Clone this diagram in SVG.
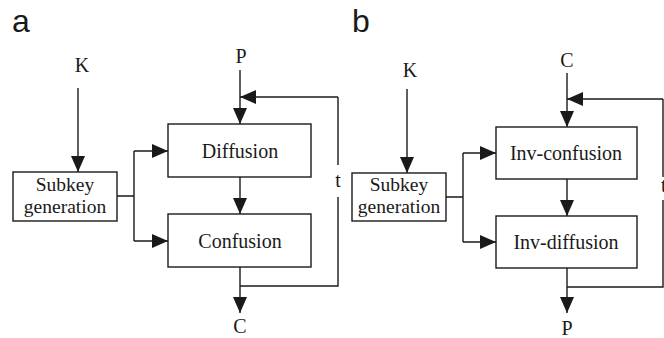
<svg xmlns="http://www.w3.org/2000/svg" width="664" height="338" viewBox="0 0 664 338">
<defs>
<marker id="ah" markerWidth="16" markerHeight="14" refX="16" refY="7" orient="auto" markerUnits="userSpaceOnUse">
<path d="M0,0 L16,7 L0,14 Z" fill="#1a1a1a"/>
</marker>
<style>
.box{fill:#fff;stroke:#1a1a1a;stroke-width:1.4}
.ln{fill:none;stroke:#1a1a1a;stroke-width:1.4}
.ar{fill:none;stroke:#1a1a1a;stroke-width:1.4;marker-end:url(#ah)}
.tx{font-family:"Liberation Serif","Times New Roman",serif;font-size:20px;fill:#1a1a1a;text-anchor:middle}
.sk{font-size:19.5px}
.lbl{font-family:"Liberation Sans",Arial,sans-serif;font-size:32px;fill:#1a1a1a}
</style>
</defs>
<rect width="664" height="338" fill="#fff"/>
<text class="lbl" x="12" y="32">a</text>
<text class="lbl" x="352" y="32">b</text>
<g id="connectors">
<path class="ar" d="M78,88 V172"/>
<path class="ln" d="M117,196 H134 M134,151 V241"/>
<path class="ar" d="M134,151 H168"/>
<path class="ar" d="M134,241 H168"/>
<path class="ar" d="M240,70 V124"/>
<path class="ar" d="M240,177 V214"/>
<path class="ar" d="M240,267 V313"/>
<path class="ln" d="M240,286 H338 V197 M338,165 V97"/>
<path class="ar" d="M338,97 H240"/>
<path class="ar" d="M407,89 V173"/>
<path class="ln" d="M446,197 H463 M463,153 V242"/>
<path class="ar" d="M463,153 H496"/>
<path class="ar" d="M463,242 H496"/>
<path class="ar" d="M567,73 V127"/>
<path class="ar" d="M567,179 V216"/>
<path class="ar" d="M567,268 V313"/>
<path class="ln" d="M567,287 H663 V200 M663,177 V99"/>
<path class="ar" d="M663,99 H567"/>
</g>
<g id="a-K"><text class="tx" x="82" y="72">K</text></g>
<g id="a-P"><text class="tx" x="241" y="63">P</text></g>
<g id="a-C"><text class="tx" x="240" y="333">C</text></g>
<g id="a-t"><text class="tx" x="338" y="187">t</text></g>
<g id="a-subkey">
<rect class="box" x="13" y="172" width="104" height="49"/>
<text class="tx sk" x="65" y="191">Subkey</text>
<text class="tx sk" x="65" y="212.5">generation</text>
</g>
<g id="a-diffusion">
<rect class="box" x="168" y="124" width="143" height="53"/>
<text class="tx" x="240" y="158">Diffusion</text>
</g>
<g id="a-confusion">
<rect class="box" x="168" y="214" width="143" height="53"/>
<text class="tx" x="240" y="248">Confusion</text>
</g>
<g id="b-K"><text class="tx" x="410" y="77">K</text></g>
<g id="b-C"><text class="tx" x="567" y="67">C</text></g>
<g id="b-P"><text class="tx" x="567" y="335">P</text></g>
<g id="b-t"><text class="tx" x="661" y="192" style="text-anchor:start">t</text></g>
<g id="b-subkey">
<rect class="box" x="352" y="173" width="94" height="48"/>
<text class="tx sk" x="399" y="191">Subkey</text>
<text class="tx sk" x="399" y="212.5">generation</text>
</g>
<g id="b-invconfusion">
<rect class="box" x="496" y="127" width="141" height="52"/>
<text class="tx" x="566" y="160">Inv-confusion</text>
</g>
<g id="b-invdiffusion">
<rect class="box" x="496" y="216" width="141" height="52"/>
<text class="tx" x="566" y="249">Inv-diffusion</text>
</g>
</svg>
